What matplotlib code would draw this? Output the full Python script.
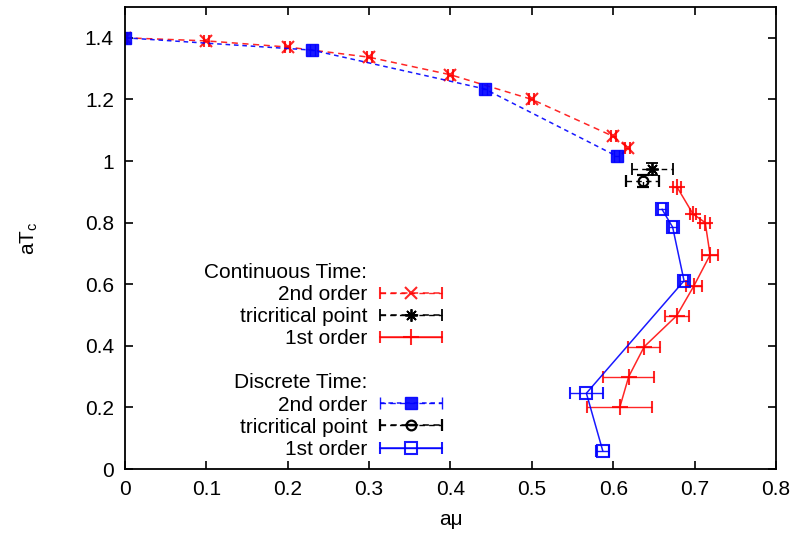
import matplotlib
matplotlib.use("Agg")
import matplotlib.pyplot as plt
from matplotlib.lines import Line2D
from matplotlib.container import ErrorbarContainer
from matplotlib.legend_handler import HandlerErrorbar

plt.rcParams['font.family'] = ['Liberation Sans', 'DejaVu Sans']

# Continuous time, 2nd order
ct2_mu = [0.0, 0.10, 0.20, 0.30, 0.40, 0.50, 0.60, 0.618]
ct2_T = [1.40, 1.39, 1.37, 1.337, 1.28, 1.20, 1.08, 1.043]
ct2_err = [0.003] * len(ct2_mu)

# Continuous time, tricritical point
ctt_mu = [0.648]
ctt_T = [0.975]
ctt_xerr = [0.025]
ctt_yerr = [0.02]

# Continuous time, 1st order
ct1_mu = [0.678, 0.698, 0.713, 0.719, 0.699, 0.678, 0.638, 0.619, 0.608]
ct1_T = [0.917, 0.828, 0.800, 0.695, 0.594, 0.498, 0.397, 0.300, 0.200]
ct1_err = [0.005, 0.004, 0.006, 0.010, 0.010, 0.015, 0.020, 0.031, 0.040]

# Discrete time, 2nd order
dt2_mu = [0.0, 0.230, 0.442, 0.604]
dt2_T = [1.40, 1.360, 1.234, 1.016]
dt2_err = [0.003] * len(dt2_mu)

# Discrete time, tricritical point
dtt_mu = [0.636]
dtt_T = [0.935]
dtt_xerr = [0.02]
dtt_yerr = [0.02]

# Discrete time, 1st order
dt1_mu = [0.660, 0.673, 0.687, 0.567, 0.587]
dt1_T = [0.843, 0.785, 0.611, 0.246, 0.060]
dt1_err = [0.005, 0.005, 0.005, 0.020, 0.008]

fig = plt.figure(figsize=(8.06, 5.34), dpi=100)
ax = fig.add_axes([0.155, 0.1217, 0.8078, 0.8652])

h_ct2 = ax.errorbar(ct2_mu, ct2_T, xerr=ct2_err, color='red', marker='x', ms=8, mew=1.5,
                    ls=(0, (4, 3)), lw=1.1, capsize=4, elinewidth=1.0, alpha=0.85)
h_ctt = ax.errorbar(ctt_mu, ctt_T, xerr=ctt_xerr, yerr=ctt_yerr, color='black', marker=(8, 2, 0),
                    ms=9, mew=1.3, ls=(0, (4, 3)), lw=1.1, capsize=4, elinewidth=1.0)
h_ct1 = ax.errorbar(ct1_mu, ct1_T, xerr=ct1_err, color='red', marker='+', ms=11, mew=1.5,
                    ls='-', lw=1.1, capsize=4, elinewidth=1.0, alpha=0.85)
h_dt2 = ax.errorbar(dt2_mu, dt2_T, xerr=dt2_err, color='blue', marker='s', ms=9,
                    ls=(0, (3, 2.5)), lw=1.1, capsize=4, elinewidth=1.0, alpha=0.9)
h_dtt = ax.errorbar(dtt_mu, dtt_T, xerr=dtt_xerr, yerr=dtt_yerr, color='black', marker='o', ms=7,
                    mfc='none', mew=1.6, ls=(0, (4, 3)), lw=1.1, capsize=4, elinewidth=1.0)
h_dt1 = ax.errorbar(dt1_mu, dt1_T, xerr=dt1_err, color='blue', marker='s', ms=8, mfc='none',
                    mew=1.5, ls='-', lw=1.1, capsize=4, elinewidth=1.0, alpha=0.9)

for h in (h_ct2, h_ctt, h_dt2, h_dtt):
    for bc in h[2]:
        bc.set_linestyle((0, (4, 3)))

ax.set_xlim(0, 0.8)
ax.set_ylim(0, 1.5)
ax.set_xticks([0, 0.1, 0.2, 0.3, 0.4, 0.5, 0.6, 0.7, 0.8])
ax.set_xticklabels(['0', '0.1', '0.2', '0.3', '0.4', '0.5', '0.6', '0.7', '0.8'])
ax.set_yticks([0, 0.2, 0.4, 0.6, 0.8, 1.0, 1.2, 1.4])
ax.set_yticklabels(['0', '0.2', '0.4', '0.6', '0.8', '1', '1.2', '1.4'])
ax.tick_params(direction='in', length=6, width=1.2, top=True, right=True,
               labelsize=15, pad=8)
for s in ax.spines.values():
    s.set_linewidth(1.3)

ax.set_xlabel('aμ', fontsize=15, labelpad=8)
ax.set_ylabel('aT$_\\mathregular{c}$', fontsize=15, labelpad=32)

blank = Line2D([], [], ls='none', marker='none')
handles = [blank, h_ct2, h_ctt, h_ct1, blank, blank, h_dt2, h_dtt, h_dt1]
labels = ['Continuous Time:', '2nd order', 'tricritical point', '1st order', ' ',
          'Discrete Time:', '2nd order', 'tricritical point', '1st order']
ax.legend(handles, labels, loc='lower right', bbox_to_anchor=(0.487, 0.022),
          frameon=False, markerfirst=False, fontsize=15, handlelength=3.0,
          handletextpad=0.6, labelspacing=0.15, borderpad=0, borderaxespad=0,
          handler_map={ErrorbarContainer: HandlerErrorbar(xerr_size=1.5, yerr_size=0.0)})

fig.savefig('out.png', dpi=100)
